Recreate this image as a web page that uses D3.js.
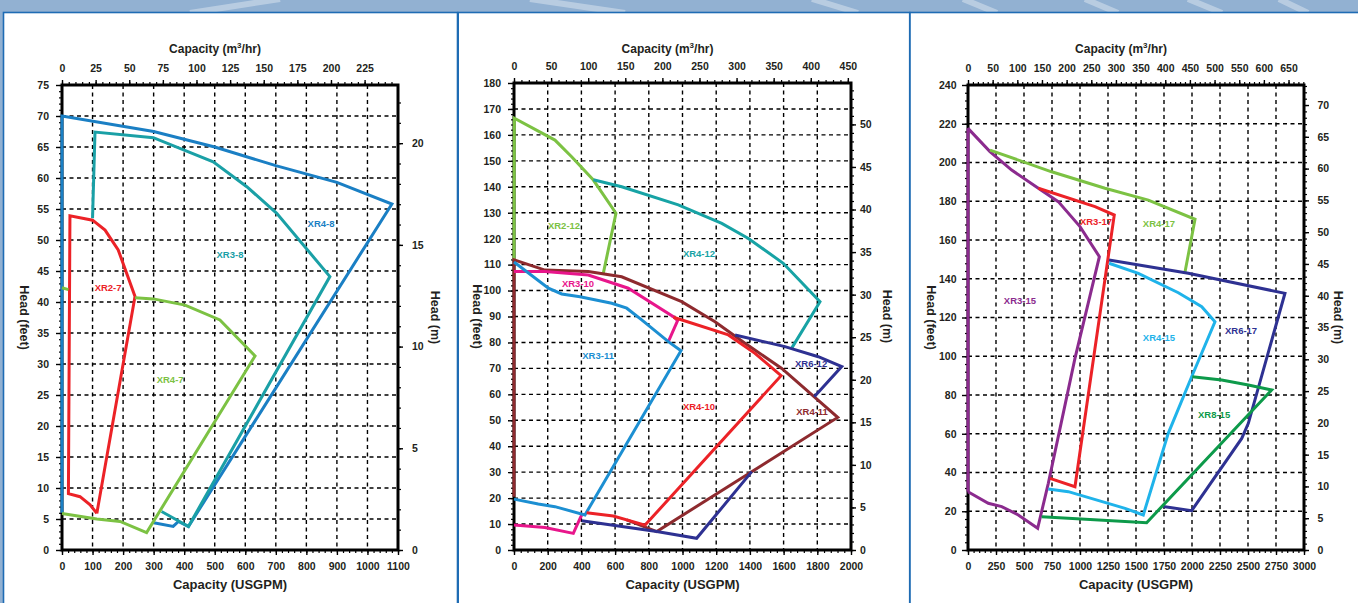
<!DOCTYPE html>
<html>
<head>
<meta charset="utf-8">
<script src="https://cdn.jsdelivr.net/npm/d3@7"></script>
<style>
body { margin: 0; background: #fff; }
svg { display: block; font-family: "Liberation Sans", Arial, Helvetica, sans-serif; }
</style>
</head>
<body>
<svg id="chart" width="1358" height="603"></svg>
<script>
const GPM_PER_M3H = 4.4029;
const M_PER_FT = 0.3048;

// ---- panel 1 (XR2-7 .. XR4-8) : [USGPM, feet]
const p1XTicks = [0, 100, 200, 300, 400, 500, 600, 700, 800, 900, 1000, 1100];
const p1XmTicks = [0, 25, 50, 75, 100, 125, 150, 175, 200, 225];
const p1YTicks = [0, 5, 10, 15, 20, 25, 30, 35, 40, 45, 50, 55, 60, 65, 70, 75];
const p1YmTicks = [0, 5, 10, 15, 20];

const xr4_8 = [[300, 4.4], [364, 3.8], [381, 4.6], [414, 3.8], [1080, 55.8], [900, 59.3], [700, 62], [500, 65], [300, 67.5], [0, 70], [0, 6]];
const xr3_8 = [[100, 53.5], [108, 67.4], [299, 66.5], [495, 62.6], [605, 58.6], [703, 54.3], [877, 44.1], [414, 3.8], [326, 6.2]];
const xr2_7 = [[114, 5.9], [92, 7.3], [59, 8.6], [21, 9.1], [26, 53.9], [100, 53.2], [141, 51.6], [184, 48.4], [239, 40.9], [114, 5.9]];
const xr4_7 = [[0, 42.3], [21, 42.0], null, [239, 40.7], [299, 40.5], [403, 39.5], [517, 37.1], [632, 31.3], [277, 2.8], [190, 4.6], [114, 5.0], [0, 5.9]];

const p1Series = [['XR4-8', xr4_8], ['XR3-8', xr3_8], ['XR2-7', xr2_7], ['XR4-7', xr4_7]];
const p1Labels = [['XR4-8', 848, 52.7], ['XR3-8', 550, 47.6], ['XR2-7', 151, 42.3], ['XR4-7', 354, 27.4]];

// ---- panel 2 (XR2-12 .. XR6-12)
const p2XTicks = [0, 200, 400, 600, 800, 1000, 1200, 1400, 1600, 1800, 2000];
const p2XmTicks = [0, 50, 100, 150, 200, 250, 300, 350, 400, 450];
const p2YTicks = [0, 10, 20, 30, 40, 50, 60, 70, 80, 90, 100, 110, 120, 130, 140, 150, 160, 170, 180];
const p2YmTicks = [0, 5, 10, 15, 20, 25, 30, 35, 40, 45, 50];

const xr2_12 = [[0, 111.8], [2, 166.4], [243, 158], [342, 151.6], [471, 142.6], [605, 129.8], [530, 106.6]];
const xr4_12 = [[471, 142.7], [639, 140], [975, 133], [1233, 125.9], [1391, 120.1], [1598, 110.5], [1816, 95.7], [1650, 78]];
const xr4_11 = [[0, 20.5], [0, 111.8], [184, 107.9], [441, 107.3], [639, 105.3], [995, 95.7], [1193, 88], [1371, 79.7], [1589, 70], [1921, 51.1], [847, 7.1], [669, 11.6]];
const xr3_10 = [[0, 107.3], [184, 107.3], [441, 106], [678, 100.9], [946, 89.9], [971, 88.4], [916, 80.3], null, [0, 9.6], [184, 8.7], [352, 6.4], [392, 12.2], [402, 13.5]];
const xr3_11 = [[0, 111], [204, 100.9], [283, 98.7], [392, 97.6], [580, 95.1], [669, 93.2], [758, 88.7], [916, 80.3], [991, 76.8], [421, 13.5], [243, 16.7], [144, 17.7], [0, 19.6]];
const xr4_10 = [[946, 89.7], [1272, 82.9], [1430, 75.8], [1585, 67.2], [778, 9.6], [589, 13.1], [431, 14.4]];
const xr6_12 = [[1312, 82.9], [1608, 78.4], [1806, 74.5], [1945, 70.7], [1782, 59.1], null, [402, 11.3], [847, 7.1], [1084, 4.5], [1411, 30.2]];

const p2Series = [['XR2-12', xr2_12], ['XR4-12', xr4_12], ['XR4-11', xr4_11], ['XR3-10', xr3_10], ['XR3-11', xr3_11], ['XR4-10', xr4_10], ['XR6-12', xr6_12]];
const p2Labels = [['XR2-12', 297, 124.9], ['XR4-12', 1098, 114.1], ['XR3-10', 380, 102.5], ['XR3-11', 499, 74.8], ['XR6-12', 1763, 71.7], ['XR4-10', 1098, 55.1], ['XR4-11', 1769, 53.2]];

// ---- panel 3 (XR3-15 .. XR8-15)
const p3XTicks = [0, 250, 500, 750, 1000, 1250, 1500, 1750, 2000, 2250, 2500, 2750, 3000];
const p3XmTicks = [0, 50, 100, 150, 200, 250, 300, 350, 400, 450, 500, 550, 600, 650];
const p3YTicks = [0, 20, 40, 60, 80, 100, 120, 140, 160, 180, 200, 220, 240];
const p3YmTicks = [0, 5, 10, 15, 20, 25, 30, 35, 40, 45, 50, 55, 60, 65, 70];

const xr3_15 = [[0, 30.1], [0, 217.6], [196, 205.6], [390, 196.1], [628, 186.7], [806, 179.8], [1000, 166.9], [1173, 151.4], [955, 98.9], [717, 34.4], [622, 11.2], [449, 18.1], [301, 22.4], [181, 24.1], [0, 30.1]];
const xr4_17 = [[196, 206.4], [747, 195.2], [1223, 186.7], [1610, 180.6], [2027, 170.7], [1938, 143.6]];
const xr3_17 = [[628, 186.7], [1134, 177.2], [1306, 172.9], [955, 32.7], [732, 37]];
const xr4_15 = [[1259, 148], [1521, 142.8], [1878, 132.8], [2087, 125.6], [2205, 117.8], [1997, 89.4], [1788, 60.2], [1565, 18.1], [1402, 21.5], [896, 30.1], [717, 31.5]];
const xr6_17 = [[1259, 149.7], [1967, 142.8], [2830, 132.5], [2503, 65.4], [2444, 57.6], [1997, 20.3], [1744, 22.4]];
const xr8_15 = [[2003, 89.4], [2265, 87.7], [2503, 85.2], [2711, 82.6], [1595, 14.1], [658, 17.2]];

const p3Series = [['XR3-15', xr3_15], ['XR4-17', xr4_17], ['XR3-17', xr3_17], ['XR4-15', xr4_15], ['XR6-17', xr6_17], ['XR8-15', xr8_15]];
const p3Labels = [['XR3-17', 1143, 169.3], ['XR4-17', 1705, 168.2], ['XR3-15', 464, 128.5], ['XR4-15', 1705, 109.4], ['XR6-17', 2438, 113.0], ['XR8-15', 2197, 69.7]];

const colors = {
    'XR4-8': '#1a7fc4', 'XR3-8': '#1aa0a6', 'XR2-7': '#ec2227', 'XR4-7': '#7cc243',
    'XR2-12': '#7cc243', 'XR4-12': '#17a3a5', 'XR4-11': '#8e2a2e', 'XR3-10': '#e8168b',
    'XR3-11': '#1c8fd2', 'XR4-10': '#ec2227', 'XR6-12': '#2e3192',
    'XR3-15': '#8b2b8e', 'XR4-17': '#7cc243', 'XR3-17': '#ec2227', 'XR4-15': '#1fb3ea',
    'XR6-17': '#2e3192', 'XR8-15': '#0d9a4a'
};

const svg = d3.select('#chart');
const fmt = d3.format('d');

// background band and panel boxes
svg.append('rect').attr('width', 1358).attr('height', 603).attr('fill', '#92b1d2');
const swooshes = [[190, 13, 280, -1], [530, -1, 625, 13], [812, -1, 858, 13], [963, -1, 997, 13], [1085, -1, 1118, 13], [1188, -1, 1222, 13], [1279, -1, 1308, 13]];
svg.selectAll('.swoosh')
    .data(swooshes)
    .enter()
    .append('line')
    .attr('x1', d => d[0]).attr('y1', d => d[1])
    .attr('x2', d => d[2]).attr('y2', d => d[3])
    .attr('stroke', 'rgba(255,255,255,0.35)')
    .attr('stroke-width', 6);

[[3.5, 454], [458.2, 451.5], [910, 460]].forEach(([x, w]) => {
    svg.append('rect')
        .attr('x', x).attr('y', 12.5)
        .attr('width', w).attr('height', 620)
        .attr('fill', '#fff')
        .attr('stroke', '#1f6cb4')
        .attr('stroke-width', 1.6);
});

const panels = [
    { left: 62, right: 398, top: 85, bottom: 550, xMax: 1100, yMax: 75,
      xTicks: p1XTicks, xmTicks: p1XmTicks, yTicks: p1YTicks, ymTicks: p1YmTicks,
      xMinor: 20, xmMinor: 5, yMinor: 1, series: p1Series, labels: p1Labels,
      leftTitle: 24, rightTitle: 435, leftPad: 13, rightPad: 14 },
    { left: 514, right: 851, top: 83, bottom: 550, xMax: 2000, yMax: 180,
      xTicks: p2XTicks, xmTicks: p2XmTicks, yTicks: p2YTicks, ymTicks: p2YmTicks,
      xMinor: 40, xmMinor: 10, yMinor: 2, series: p2Series, labels: p2Labels,
      leftTitle: 477, rightTitle: 887, leftPad: 13, rightPad: 9 },
    { left: 968, right: 1304, top: 85, bottom: 550, xMax: 3000, yMax: 240,
      xTicks: p3XTicks, xmTicks: p3XmTicks, yTicks: p3YTicks, ymTicks: p3YmTicks,
      xMinor: 50, xmMinor: 10, yMinor: 4, series: p3Series, labels: p3Labels,
      leftTitle: 931, rightTitle: 1338, leftPad: 11.5, rightPad: 13.5 }
];

function styleAxis(g) {
    g.select('.domain').remove();
    g.selectAll('line').attr('stroke', '#000').attr('stroke-width', 1.4);
    g.selectAll('text')
        .attr('fill', '#231f20')
        .attr('font-size', 10.5)
        .attr('font-weight', 'bold')
        .attr('font-family', '"Liberation Sans", Arial, sans-serif');
}

function minorAxis(g, axis) {
    g.call(axis);
    g.select('.domain').remove();
    g.selectAll('line').attr('stroke', '#000').attr('stroke-width', 1.2);
    g.selectAll('text').remove();
}

panels.forEach(p => {
    const x = d3.scaleLinear().domain([0, p.xMax]).range([p.left, p.right]);
    const xm = d3.scaleLinear().domain([0, p.xMax / GPM_PER_M3H]).range([p.left, p.right]);
    const y = d3.scaleLinear().domain([0, p.yMax]).range([p.bottom, p.top]);
    const ym = d3.scaleLinear().domain([0, p.yMax * M_PER_FT]).range([p.bottom, p.top]);
    const g = svg.append('g');

    // dashed grid
    g.append('g').selectAll('line')
        .data(p.xTicks.filter(v => v > 0 && v < p.xMax))
        .enter().append('line')
        .attr('x1', d => x(d)).attr('x2', d => x(d))
        .attr('y1', p.top).attr('y2', p.bottom)
        .attr('stroke', '#000').attr('stroke-width', 1.4)
        .attr('stroke-dasharray', '4,3.5');
    g.append('g').selectAll('line')
        .data(p.yTicks.filter(v => v > 0 && v < p.yMax))
        .enter().append('line')
        .attr('y1', d => y(d)).attr('y2', d => y(d))
        .attr('x1', p.left).attr('x2', p.right)
        .attr('stroke', '#000').attr('stroke-width', 1.4)
        .attr('stroke-dasharray', '4,3.5');

    // minor ticks
    minorAxis(g.append('g').attr('transform', `translate(0,${p.bottom})`),
        d3.axisBottom(x).tickValues(d3.range(0, p.xMax + 1, p.xMinor)).tickSize(3).tickFormat(''));
    minorAxis(g.append('g').attr('transform', `translate(0,${p.top})`),
        d3.axisTop(xm).tickValues(d3.range(0, p.xMax / GPM_PER_M3H, p.xmMinor)).tickSize(3).tickFormat(''));
    minorAxis(g.append('g').attr('transform', `translate(${p.left},0)`),
        d3.axisLeft(y).tickValues(d3.range(0, p.yMax + 0.01, p.yMinor)).tickSize(3).tickFormat(''));
    minorAxis(g.append('g').attr('transform', `translate(${p.right},0)`),
        d3.axisRight(ym).tickValues(d3.range(0, p.yMax * M_PER_FT, 1)).tickSize(3).tickFormat(''));

    // major axes
    g.append('g').attr('transform', `translate(0,${p.bottom})`)
        .call(d3.axisBottom(x).tickValues(p.xTicks).tickFormat(fmt).tickSize(5).tickPadding(8))
        .call(styleAxis);
    g.append('g').attr('transform', `translate(0,${p.top})`)
        .call(d3.axisTop(xm).tickValues(p.xmTicks).tickFormat(fmt).tickSize(5).tickPadding(8))
        .call(styleAxis);
    g.append('g').attr('transform', `translate(${p.left},0)`)
        .call(d3.axisLeft(y).tickValues(p.yTicks).tickFormat(fmt).tickSize(6).tickPadding(p.leftPad - 6))
        .call(styleAxis);
    g.append('g').attr('transform', `translate(${p.right},0)`)
        .call(d3.axisRight(ym).tickValues(p.ymTicks).tickFormat(fmt).tickSize(5).tickPadding(p.rightPad - 5))
        .call(styleAxis);

    // frame
    g.append('rect')
        .attr('x', p.left).attr('y', p.top)
        .attr('width', p.right - p.left).attr('height', p.bottom - p.top)
        .attr('fill', 'none').attr('stroke', '#000').attr('stroke-width', 3);

    // titles
    const cx = (p.left + p.right) / 2;
    const cy = (p.top + p.bottom) / 2;
    const top = g.append('text')
        .attr('x', cx - 15).attr('y', 53)
        .attr('text-anchor', 'middle')
        .attr('font-size', 12).attr('font-weight', 'bold').attr('fill', '#231f20');
    top.append('tspan').text('Capacity (m');
    top.append('tspan').attr('dy', -5).attr('font-size', 8).text('3');
    top.append('tspan').attr('dy', 5).text('/hr)');

    g.append('text')
        .attr('x', cx).attr('y', 588.5)
        .attr('text-anchor', 'middle')
        .attr('font-size', 13).attr('font-weight', 'bold').attr('fill', '#231f20')
        .text('Capacity (USGPM)');
    g.append('text')
        .attr('transform', `translate(${p.leftTitle},${cy}) rotate(90)`)
        .attr('text-anchor', 'middle').attr('dy', '0.35em')
        .attr('font-size', 12.5).attr('font-weight', 'bold').attr('fill', '#231f20')
        .text('Head (feet)');
    g.append('text')
        .attr('transform', `translate(${p.rightTitle},${cy}) rotate(90)`)
        .attr('text-anchor', 'middle').attr('dy', '0.35em')
        .attr('font-size', 12.5).attr('font-weight', 'bold').attr('fill', '#231f20')
        .text('Head (m)');

    // series
    const line = d3.line()
        .defined(d => d !== null)
        .x(d => x(d[0]))
        .y(d => y(d[1]));
    g.append('g').selectAll('path')
        .data(p.series)
        .enter().append('path')
        .attr('d', d => line(d[1]))
        .attr('fill', 'none')
        .attr('stroke', d => colors[d[0]])
        .attr('stroke-width', 3)
        .attr('stroke-linejoin', 'miter')
        .attr('stroke-miterlimit', 2.5);

    g.append('g').selectAll('text')
        .data(p.labels)
        .enter().append('text')
        .attr('x', d => x(d[1]))
        .attr('y', d => y(d[2]))
        .attr('dy', '0.35em')
        .attr('text-anchor', 'middle')
        .attr('font-size', 9.5).attr('font-weight', 'bold')
        .attr('fill', d => colors[d[0]])
        .text(d => d[0]);
});
</script>
</body>
</html>
